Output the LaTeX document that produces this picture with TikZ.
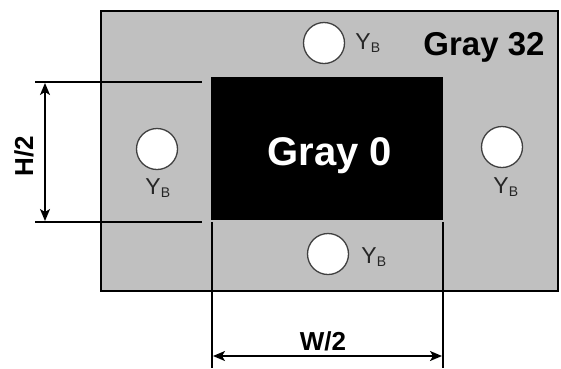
\documentclass[tikz,border=0pt]{standalone}
\usepackage{fontspec}
\setmainfont{Liberation Sans}
\usetikzlibrary{arrows.meta}
\begin{document}
\begin{tikzpicture}[x=1pt,y=-1pt,
  dimline/.style={line width=1.6pt,draw=black},
  dimarrow/.style={line width=1.6pt,draw=black,{Stealth[length=12pt,width=10pt,inset=3pt]}-{Stealth[length=12pt,width=10pt,inset=3pt]}},
  hole/.style={circle,draw=black!75,line width=1.3pt,fill=white,minimum size=41pt,inner sep=0pt},
  ylab/.style={font=\fontsize{23}{23}\selectfont,inner sep=0pt,text=black!85},
  biglab/.style={font=\fontsize{33}{33}\selectfont\bfseries,inner sep=0pt,anchor=base},
  dimlab/.style={font=\fontsize{26}{26}\selectfont\bfseries,inner sep=0pt}]
\useasboundingbox (0,0) rectangle (561,368);
% gray board
\node[draw=black,line width=2pt,fill={rgb,255:red,192;green,192;blue,192},minimum width=457pt,minimum height=280pt,inner sep=0pt,anchor=north west] (board) at (100,10) {};
% black patch
\node[fill=black,minimum width=232pt,minimum height=143pt,inner sep=0pt,anchor=north west] (patch) at (211,77) {};
\node[biglab,text=white,font=\fontsize{40}{40}\selectfont\bfseries] (g0) at (330,165) {Gray 0};
\node[biglab] (g32) at (484,55) {Gray 32};
% holes
\node[hole] (ht) at (324,43) {};
\node[hole] (hl) at (157,149) {};
\node[hole] (hr) at (502,147) {};
\node[hole] (hb) at (328,254) {};
\node[ylab] (lt) at (368,43) {Y\textsubscript{\fontsize{14}{14}\selectfont B}};
\node[ylab] (ll) at (158,188) {Y\textsubscript{\fontsize{14}{14}\selectfont B}};
\node[ylab] (lr) at (506,187) {Y\textsubscript{\fontsize{14}{14}\selectfont B}};
\node[ylab] (lb) at (374,257) {Y\textsubscript{\fontsize{14}{14}\selectfont B}};
% H/2 dimension
\coordinate (h1a) at (35,82);
\coordinate (h1b) at (202,82);
\coordinate (h2a) at (35,222);
\coordinate (h2b) at (202,222);
\coordinate (hat) at (45,83);
\coordinate (hab) at (45,221);
\draw[dimline] (h1a) -- (h1b);
\draw[dimline] (h2a) -- (h2b);
\draw[dimarrow] (hat) -- (hab);
\node[dimlab,rotate=90] (hlab) at (24,156) {H/2};
% W/2 dimension
\coordinate (v1a) at (212,222);
\coordinate (v1b) at (212,368);
\coordinate (v2a) at (443,222);
\coordinate (v2b) at (443,368);
\coordinate (wal) at (213,356);
\coordinate (war) at (442,356);
\draw[dimline] (v1a) -- (v1b);
\draw[dimline] (v2a) -- (v2b);
\draw[dimarrow] (wal) -- (war);
\node[dimlab] (wlab) at (323,341) {W/2};
\end{tikzpicture}
\end{document}
